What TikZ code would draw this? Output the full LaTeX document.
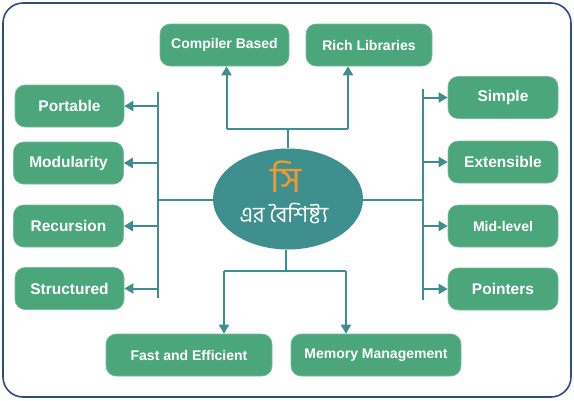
\documentclass[tikz,border=0pt]{standalone}
\usepackage{fontspec}
\setmainfont{Liberation Sans}
\newfontfamily\bnfont[Script=Bengali]{Hind Siliguri}
\usetikzlibrary{arrows.meta,shapes.geometric}
\definecolor{framecol}{HTML}{2B4C84}
\definecolor{boxgreen}{HTML}{4CA67C}
\definecolor{linecol}{HTML}{3D8E8E}
\definecolor{ellcol}{HTML}{3F8F8F}
\definecolor{orangecol}{HTML}{F29A2E}
\tikzset{
  featbox/.style={rectangle, rounded corners=10pt, fill=boxgreen, draw=boxgreen!75!white, line width=0.6pt, text=white, font=\bfseries, minimum height=42pt, inner sep=0pt},
  bigtxt/.style={font=\fontsize{15.5}{18}\selectfont\bfseries},
  smalltxt/.style={font=\fontsize{14}{16}\selectfont\bfseries},
  conn/.style={draw=linecol, line width=2pt},
  arr/.style={conn, -{Triangle[length=9pt,width=10pt]}}
}
\begin{document}
\begin{tikzpicture}[x=1pt,y=-1pt]
\useasboundingbox (0,0) rectangle (574,400);
\draw[framecol, line width=1.6pt, rounded corners=20pt] (3,3) rectangle (571,397);

% centre
\node[ellipse, fill=ellcol, minimum width=150pt, minimum height=101pt, inner sep=0pt] (ell) at (288,199) {};
\node[text=orangecol, font=\bnfont\fontsize{36}{40}\selectfont] (t1) at (286,177) {সি};
\node[text=white, font=\bnfont\fontsize{22}{26}\selectfont] (t2) at (284,214) {এর বৈশিষ্ট্য};

% top
\node[featbox, smalltxt, minimum width=129pt] (comp) at (224.5,45) {Compiler Based};
\node[featbox, smalltxt, minimum width=126pt] (rich) at (369,45) {Rich Libraries};
% left
\node[featbox, bigtxt, minimum width=109pt] (port) at (69.5,106) {Portable};
\node[featbox, bigtxt, minimum width=110pt] (modu) at (68.5,163) {Modularity};
\node[featbox, bigtxt, minimum width=110pt] (recu) at (68.5,226) {Recursion};
\node[featbox, bigtxt, minimum width=109pt] (stru) at (69.5,288.5) {Structured};
% right
\node[featbox, bigtxt, minimum width=110pt] (simp) at (503,97.5) {Simple};
\node[featbox, bigtxt, minimum width=110pt] (exte) at (503,162) {Extensible};
\node[featbox, smalltxt, minimum width=110pt] (midl) at (503,226) {Mid-level};
\node[featbox, bigtxt, minimum width=110pt] (poin) at (503,289) {Pointers};
% bottom
\node[featbox, smalltxt, minimum width=166pt] (fast) at (189,355) {Fast and Efficient};
\node[featbox, smalltxt, minimum width=170pt] (memo) at (376,355) {Memory Management};

% junction coordinates
\coordinate (ltop) at (158,92);
\coordinate (lbot) at (158,298);
\coordinate (lj) at (158,200);
\coordinate (rtop) at (423,89);
\coordinate (rbot) at (423,300);
\coordinate (rj) at (423,200);
\coordinate (tj) at (288,129);
\coordinate (tl) at (226.5,129);
\coordinate (tr) at (348,129);
\coordinate (bj) at (286,271);
\coordinate (bl) at (224,271);
\coordinate (br) at (346,271);

% left
\draw[conn] (ltop) -- (lbot);
\draw[conn] (ell.west |- lj) -- (lj);
\draw[arr] (ltop |- port.west) -- (port.east);
\draw[arr] (ltop |- modu.west) -- (modu.east);
\draw[arr] (ltop |- recu.west) -- (recu.east);
\draw[arr] (ltop |- stru.west) -- (stru.east);
% right
\draw[conn] (rtop) -- (rbot);
\draw[conn] (ell.east |- rj) -- (rj);
\draw[arr] (rtop |- simp.west) -- (simp.west);
\draw[arr] (rtop |- exte.west) -- (exte.west);
\draw[arr] (rtop |- midl.west) -- (midl.west);
\draw[arr] (rtop |- poin.west) -- (poin.west);
% top
\draw[conn] (ell.north) -- (tj);
\draw[conn] (tl) -- (tr);
\draw[arr] (tl) -- (tl |- comp.south);
\draw[arr] (tr) -- (tr |- rich.south);
% bottom
\draw[conn] (ell.south -| bj) -- (bj);
\draw[conn] (bl) -- (br);
\draw[arr] (bl) -- (bl |- fast.north);
\draw[arr] (br) -- (br |- memo.north);
\end{tikzpicture}
\end{document}
